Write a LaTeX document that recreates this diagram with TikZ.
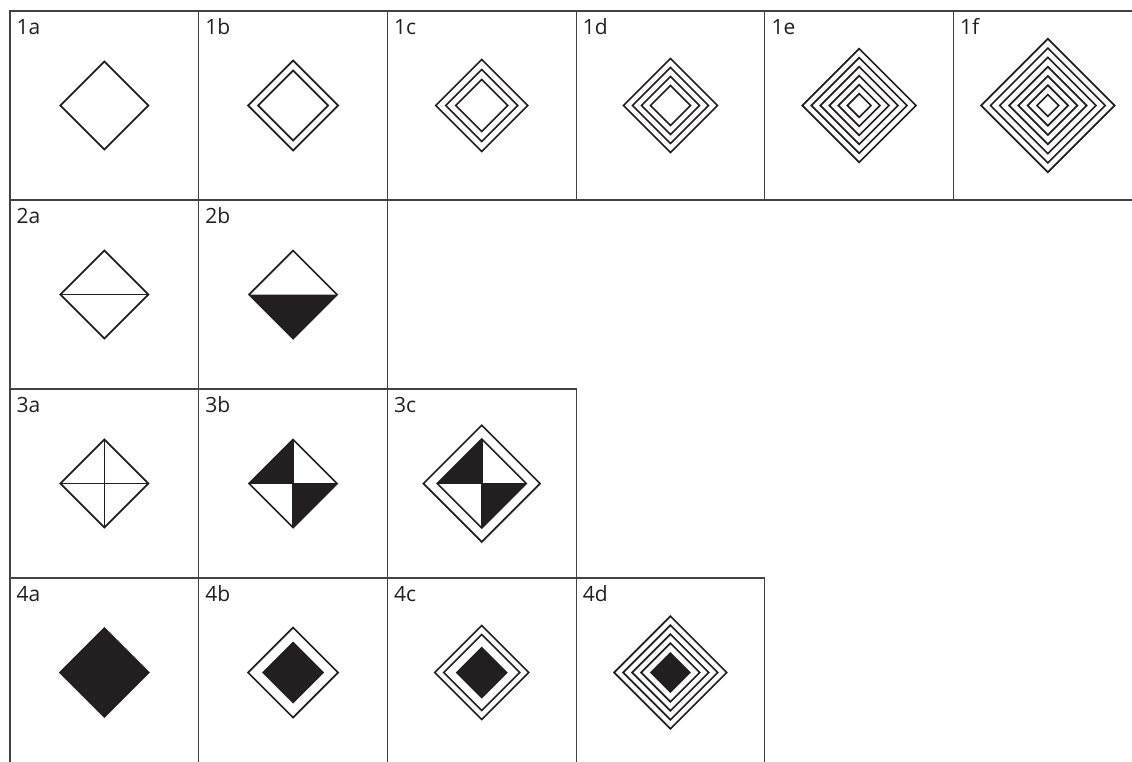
\documentclass[tikz,border=0pt]{standalone}
\usepackage{fontspec}
\setmainfont{Open Sans}
\definecolor{ink}{HTML}{231F20}
\tikzset{
  cell/.style={draw=ink!85, line width=1.1pt, minimum width=188.7pt, minimum height=189pt, inner sep=0pt, outer sep=0pt, anchor=north west},
  lab/.style={anchor=base west, inner sep=0pt, font=\fontsize{21}{21}\selectfont, text=ink},
  dline/.style={draw=ink, line width=1.7pt, line join=miter},
  dsolid/.style={fill=ink, draw=none},
}
\newcommand\dia[2][]{\path[dline,#1] (-#2,0)--(0,-#2)--(#2,0)--(0,#2)--cycle;}
\newcommand\diaf[1]{\path[dsolid] (-#1,0)--(0,-#1)--(#1,0)--(0,#1)--cycle;}
\begin{document}
\begin{tikzpicture}[x=1pt,y=-1pt]
\useasboundingbox (0,0) rectangle (1132,761);
\clip (0,0) rectangle (1132,761);
% cells: columns left edges 10 + 188.7 i ; rows top 11 + 189 j
\foreach \n/\i/\j in {1a/0/0,1b/1/0,1c/2/0,1d/3/0,1e/4/0,1f/5/0,
                      2a/0/1,2b/1/1,
                      3a/0/2,3b/1/2,3c/2/2,
                      4a/0/3,4b/1/3,4c/2/3,4d/3/3}{
  \node[cell] (c\n) at ({10+188.7*\i},{11+189*\j}) {};
  \node[lab] (l\n) at ({16.5+188.7*\i},{34+189*\j}) {\n};
  \coordinate (m\n) at ({10+188.7*\i+94.35},{11+189*\j+94.5});
}
% row 1
\begin{scope}[shift={(m1a)}] \dia{44} \end{scope}
\begin{scope}[shift={(m1b)}] \foreach \h in {45,35}{\dia{\h}} \end{scope}
\begin{scope}[shift={(m1c)}] \foreach \h in {46,36,26}{\dia{\h}} \end{scope}
\begin{scope}[shift={(m1d)}] \foreach \h in {47,38,29,20}{\dia{\h}} \end{scope}
\begin{scope}[shift={(m1e)}] \foreach \h in {56.8,47.8,38.8,29.8,20.8,11.8}{\dia{\h}} \end{scope}
\begin{scope}[shift={(m1f)}] \foreach \h in {66.7,57.4,48.1,38.8,29.5,20.2,10.9}{\dia{\h}} \end{scope}
% row 2
\begin{scope}[shift={(m2a)}] \dia{44} \path[dline] (-44,0)--(44,0); \end{scope}
\begin{scope}[shift={(m2b)}] \path[dsolid] (-44,0)--(44,0)--(0,44)--cycle; \dia{44} \end{scope}
% row 3
\begin{scope}[shift={(m3a)}] \dia{44} \path[dline] (-44,0)--(44,0) (0,-44)--(0,44); \end{scope}
\begin{scope}[shift={(m3b)}] \path[dsolid] (-44,0)--(0,-44)--(0,0)--cycle (44,0)--(0,44)--(0,0)--cycle; \dia{44} \path[dline] (-44,0)--(44,0) (0,-44)--(0,44); \end{scope}
\begin{scope}[shift={(m3c)}] \dia{58.3} \path[dsolid] (-44.5,0)--(0,-44.5)--(0,0)--cycle (44.5,0)--(0,44.5)--(0,0)--cycle; \dia{44.5} \path[dline] (-44.5,0)--(44.5,0) (0,-44.5)--(0,44.5); \end{scope}
% row 4
\begin{scope}[shift={(m4a)}] \diaf{45.5} \end{scope}
\begin{scope}[shift={(m4b)}] \dia{45} \diaf{31} \end{scope}
\begin{scope}[shift={(m4c)}] \foreach \h in {47,38}{\dia{\h}} \diaf{26} \end{scope}
\begin{scope}[shift={(m4d)}] \foreach \h in {56.3,47.3,38.3,29.3}{\dia{\h}} \diaf{20.5} \end{scope}
\end{tikzpicture}
\end{document}
